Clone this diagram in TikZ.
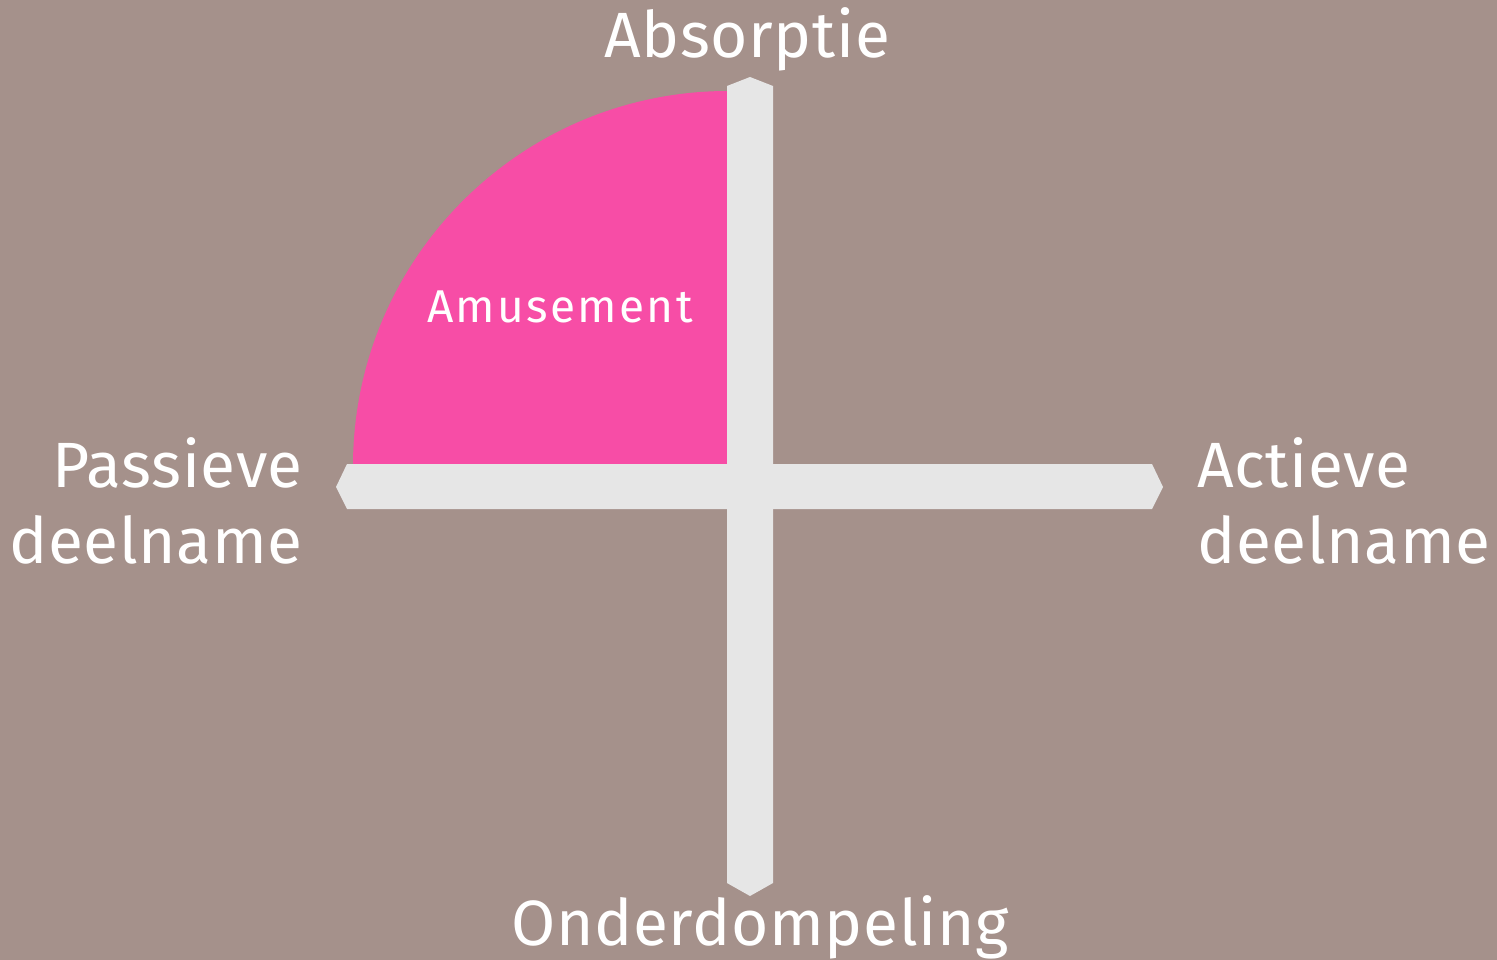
\documentclass[tikz,border=0pt]{standalone}
\usepackage{fontspec}
\newfontfamily\labfont[LetterSpace=1]{Fira Sans}
\newfontfamily\amufont[LetterSpace=5]{Fira Sans}
\definecolor{bgc}{RGB}{165,145,139}
\definecolor{pinkc}{RGB}{247,77,166}
\definecolor{barc}{RGB}{230,230,230}
\begin{document}
\begin{tikzpicture}[x=1pt,y=-1pt,
  lab/.style={text=white,font=\labfont\fontsize{64}{76}\selectfont,inner sep=0pt},
  smalllab/.style={text=white,font=\amufont\fontsize{46}{54}\selectfont,inner sep=0pt}]
\fill[bgc] (0,0) rectangle (1497,960);
\useasboundingbox (0,0) rectangle (1497,960);
% pink quarter
\fill[pinkc] (730,466) -- (353,466) arc[start angle=180,end angle=90,radius=375pt] -- cycle;
% vertical bar
\fill[barc] (727,86) -- (750,77) -- (773,86) -- (773,883) -- (750,896) -- (727,883) -- cycle;
% horizontal bar
\fill[barc] (347,464) -- (1152,464) -- (1163,487) -- (1152,509) -- (347,509) -- (336,487) -- cycle;
% labels
\node[lab,anchor=base] (top) at (747,58) {Absorptie};
\node[lab,anchor=base east] (l1) at (303,487) {Passieve};
\node[lab,anchor=base east] (l2) at (303,563) {deelname};
\node[lab,anchor=base west] (r1) at (1197,487) {Actieve};
\node[lab,anchor=base west] (r2) at (1197,563) {deelname};
\node[lab,anchor=base] (bot) at (760,945) {Onderdompeling};
\node[smalllab,anchor=base] (amu) at (560,322) {Amusement};
\end{tikzpicture}
\end{document}
